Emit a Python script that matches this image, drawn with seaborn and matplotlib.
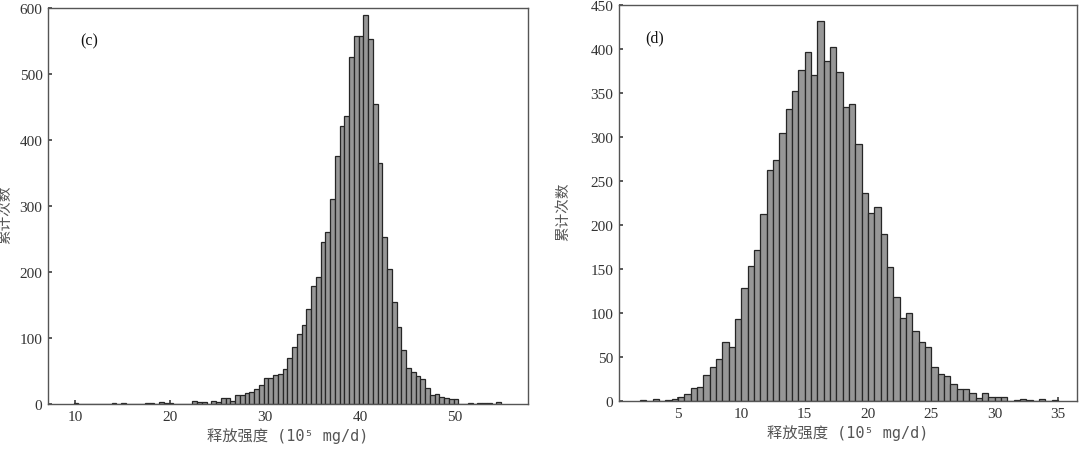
import numpy as np
import pandas as pd
import matplotlib
matplotlib.use("Agg")
import matplotlib.pyplot as plt
import seaborn as sns

# histogram bin width (10^5 mg/d)
bin_width = 0.5

# panel (c): counts per bin, first bin starts at c_start
c_start = 9.86
c_counts = [1, 0, 0, 0, 0, 0, 0, 0, 1, 0,
            1, 0, 0, 0, 0, 1, 1, 0, 3, 2,
            2, 0, 0, 0, 0, 4, 3, 3, 0, 4,
            3, 9, 9, 4, 13, 14, 16, 18, 23, 29,
            40, 39, 44, 46, 53, 69, 87, 106, 120, 144,
            179, 192, 246, 261, 310, 376, 421, 436, 526, 558,
            558, 590, 553, 454, 365, 253, 204, 154, 117, 82,
            54, 48, 42, 38, 24, 14, 15, 10, 9, 8,
            7, 0, 0, 2, 0, 1, 1, 1, 0, 3]

# panel (d): counts per bin, first bin starts at d_start
d_start = 2.0
d_counts = [1, 0, 2, 0, 1, 2, 5, 8, 15, 16,
            29, 39, 48, 67, 61, 93, 128, 153, 172, 213,
            263, 274, 305, 332, 352, 376, 397, 370, 432, 386,
            402, 374, 334, 338, 292, 236, 214, 220, 190, 152,
            118, 94, 100, 79, 67, 61, 39, 31, 28, 19,
            14, 14, 9, 3, 9, 4, 4, 4, 0, 1,
            2, 1, 0, 2, 0, 1]

c_xticks = [10, 20, 30, 40, 50]
c_yticks = [0, 100, 200, 300, 400, 500, 600]
d_xticks = [5, 10, 15, 20, 25, 30, 35]
d_yticks = [0, 50, 100, 150, 200, 250, 300, 350, 400, 450]

x_label = "释放强度 (10⁵ mg/d)"
y_label = "累计次数"


def to_frame(start, counts):
    n = len(counts)
    centers = start + bin_width * (np.arange(n) + 0.5)
    return pd.DataFrame({"value": centers, "count": counts})


sns.set_theme(style="ticks")
plt.rcParams["font.family"] = ["Noto Sans CJK SC", "DejaVu Sans"]
plt.rcParams["xtick.direction"] = "in"
plt.rcParams["ytick.direction"] = "in"
plt.rcParams["xtick.major.size"] = 3
plt.rcParams["ytick.major.size"] = 3
plt.rcParams["axes.linewidth"] = 1.0

fig = plt.figure(figsize=(10.8, 4.52), dpi=100)
ax_c = fig.add_axes([48 / 1080, 47 / 452, 480 / 1080, 396 / 452])
ax_d = fig.add_axes([619 / 1080, 50 / 452, 458 / 1080, 396 / 452])

panels = [
    (ax_c, c_start, c_counts, (7.15, 57.7), (0, 600), c_xticks, c_yticks, "(c)", 0.067, -0.074),
    (ax_d, d_start, d_counts, (0.35, 36.5), (0, 450), d_xticks, d_yticks, "(d)", 0.057, -0.107),
]

for ax, start, counts, xlim, ylim, xt, yt, tag, tag_x, ylab_x in panels:
    df = to_frame(start, counts)
    sns.histplot(data=df, x="value", weights="count", binwidth=bin_width,
                 binrange=(start, start + bin_width * len(counts)),
                 color="#979797", edgecolor="#262626", linewidth=0.9,
                 alpha=1, ax=ax)
    ax.set_xlim(*xlim)
    ax.set_ylim(*ylim)
    ax.set_xticks(xt)
    ax.set_yticks(yt)
    ax.tick_params(colors="#444444", labelcolor="#333333", labelsize=11, pad=4)
    for lbl in ax.get_xticklabels() + ax.get_yticklabels():
        lbl.set_fontfamily("Liberation Serif")
    for sp in ax.spines.values():
        sp.set_visible(True)
        sp.set_color("#555555")
    ax.set_xlabel(x_label, fontsize=11, color="#555555",
                  family=["DejaVu Sans Mono", "Noto Sans CJK SC"])
    ax.xaxis.set_label_coords(0.5, -0.058)
    ax.set_ylabel(y_label, fontsize=10.5, color="#555555")
    ax.yaxis.set_label_coords(ylab_x, 0.48)
    ax.text(tag_x, 0.917, tag, transform=ax.transAxes, fontsize=11.5,
            family="Liberation Serif", color="#111111", va="center")

fig.savefig("out.png", dpi=100)
